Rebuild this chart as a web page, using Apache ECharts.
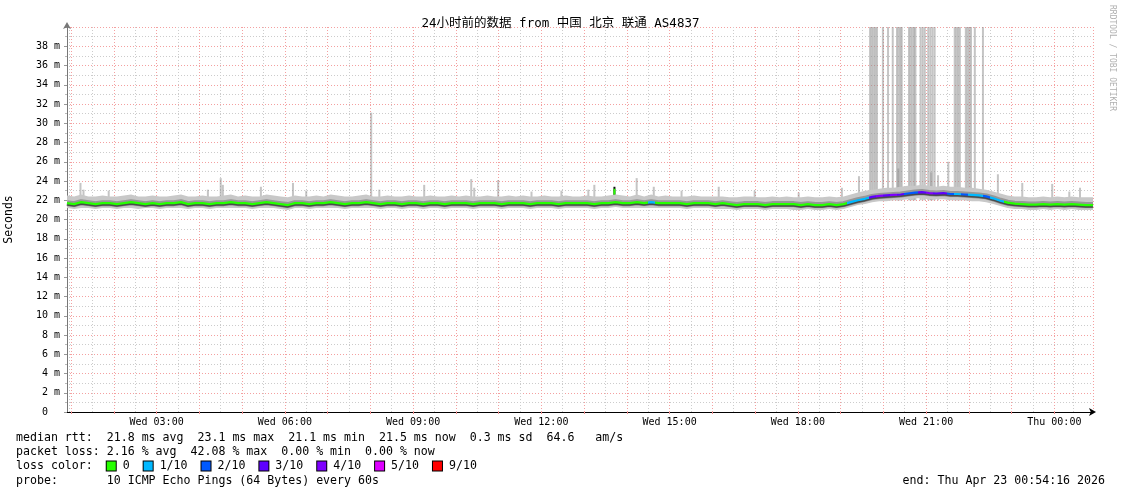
<!DOCTYPE html>
<html>
<head>
<meta charset="utf-8">
<script src="https://cdn.jsdelivr.net/npm/echarts@6/dist/echarts.min.js"></script>
<style>
html,body{margin:0;padding:0;background:#fff;}
#chart{width:1121px;height:494px;}
</style>
</head>
<body>
<div id="chart"></div>
<script>
// ---- data (10-minute samples starting Wed Apr 22 2026 00:54:16) ----
const titleText = '24小时前的数据 from 中国 北京 联通 AS4837';
const startTime = [2026, 3, 22, 0, 54, 16];
const endTime = [2026, 3, 23, 0, 54, 16];
const sampleMinutes = 10;

const medianRtt = [
  21.7,21.6,21.8,21.7,21.6,21.7,21.7,21.6,21.7,21.8,21.7,21.6,
  21.7,21.6,21.7,21.7,21.8,21.6,21.7,21.7,21.6,21.7,21.7,21.8,
  21.7,21.7,21.6,21.7,21.8,21.7,21.6,21.5,21.7,21.7,21.6,21.7,
  21.7,21.8,21.7,21.6,21.7,21.7,21.8,21.7,21.6,21.7,21.7,21.6,
  21.7,21.7,21.6,21.7,21.7,21.6,21.7,21.7,21.7,21.6,21.7,21.7,
  21.7,21.6,21.7,21.7,21.7,21.6,21.7,21.7,21.7,21.6,21.7,21.7,
  21.7,21.7,21.6,21.7,21.7,21.8,21.7,21.7,21.8,21.7,21.8,21.7,
  21.7,21.7,21.7,21.6,21.7,21.7,21.7,21.6,21.7,21.6,21.5,21.6,
  21.6,21.6,21.5,21.6,21.6,21.6,21.6,21.5,21.6,21.5,21.5,21.6,
  21.5,21.6,21.8,22.0,22.15,22.35,22.45,22.5,22.55,22.6,22.7,22.8,
  22.85,22.75,22.7,22.75,22.65,22.65,22.6,22.55,22.5,22.4,22.2,21.95,
  21.75,21.65,21.6,21.55,21.55,21.6,21.55,21.6,21.55,21.6,21.55,21.5,21.5
];
// a short median excursion (hours since Wed 00:00, peak in ms)
const medianSpikeHours = [13.71];
const medianSpikeTops = [23.4];
const lossCount = [
  0,0,0,0,0,0,0,0,0,0,0,0,
  0,0,0,0,0,0,0,0,0,0,0,0,
  0,0,0,0,0,0,0,0,0,0,0,0,
  0,0,0,0,0,0,0,0,0,0,0,0,
  0,0,0,0,0,0,0,0,0,0,0,0,
  0,0,0,0,0,0,0,0,0,0,0,0,
  0,0,0,0,0,0,0,0,0,0,1,0,
  0,0,0,0,0,0,0,0,0,0,0,0,
  0,0,0,0,0,0,0,0,0,0,0,0,
  0,0,1,1,1,3,4,3,4,3,2,2,
  3,4,3,3,2,1,2,1,1,2,1,1,
  0,0,0,0,0,0,0,0,0,0,0,0,0
];
const smokeLow = [
  21.2,21.1,21.2,21.2,21.1,21.2,21.2,21.1,21.2,21.2,21.1,21.2,
  21.2,21.1,21.2,21.2,21.2,21.1,21.2,21.2,21.1,21.2,21.2,21.2,
  21.2,21.2,21.1,21.2,21.2,21.2,21.1,21.0,21.2,21.2,21.1,21.2,
  21.2,21.2,21.2,21.1,21.2,21.2,21.2,21.2,21.1,21.2,21.2,21.1,
  21.2,21.2,21.1,21.2,21.2,21.1,21.2,21.2,21.2,21.1,21.2,21.2,
  21.2,21.1,21.2,21.2,21.2,21.1,21.2,21.2,21.2,21.1,21.2,21.2,
  21.2,21.2,21.1,21.2,21.2,21.3,21.2,21.2,21.2,21.2,21.2,21.2,
  21.2,21.2,21.2,21.1,21.2,21.2,21.2,21.1,21.1,21.1,21.0,21.1,
  21.1,21.1,21.0,21.1,21.1,21.1,21.0,21.0,21.1,21.0,21.0,21.1,
  21.0,21.1,21.3,21.5,21.6,21.8,21.9,21.9,22.0,22.0,22.1,22.2,
  22.2,22.1,22.1,22.1,22.0,22.0,22.0,21.9,21.9,21.8,21.6,21.4,
  21.2,21.1,21.1,21.0,21.0,21.1,21.0,21.1,21.0,21.1,21.0,21.0,21.0
];
const smokeHigh = [
  22.5,22.4,22.6,22.4,22.4,22.5,22.4,22.4,22.5,22.6,22.4,22.4,
  22.5,22.4,22.4,22.5,22.6,22.4,22.4,22.5,22.4,22.4,22.5,22.6,
  22.4,22.5,22.4,22.4,22.6,22.5,22.4,22.3,22.5,22.4,22.4,22.5,
  22.4,22.6,22.5,22.4,22.4,22.5,22.6,22.4,22.4,22.5,22.4,22.4,
  22.5,22.4,22.4,22.5,22.4,22.4,22.5,22.4,22.5,22.4,22.4,22.5,
  22.4,22.4,22.5,22.4,22.5,22.4,22.4,22.5,22.4,22.4,22.5,22.4,
  22.4,22.5,22.4,22.4,22.5,22.6,22.5,22.4,22.6,22.4,22.6,22.4,
  22.5,22.4,22.4,22.4,22.5,22.4,22.4,22.4,22.4,22.3,22.3,22.4,
  22.4,22.3,22.3,22.4,22.3,22.4,22.3,22.3,22.4,22.3,22.3,22.4,
  22.3,22.4,22.6,22.8,23.0,23.1,23.2,23.3,23.3,23.4,23.5,23.5,
  23.6,23.5,23.4,23.5,23.4,23.4,23.3,23.3,23.2,23.1,22.9,22.7,
  22.5,22.4,22.4,22.3,22.3,22.4,22.3,22.4,22.3,22.4,22.3,22.3,22.3
];
// occasional high pings (hours since Wed 00:00, top value in ms)
const spikeHours = [
  1.22,1.29,1.88,4.20,4.50,4.55,5.44,6.19,6.50,8.02,8.21,9.26,10.36,10.43,10.99,
  11.77,12.47,13.10,13.24,14.23,14.63,15.28,16.15,16.99,18.02,19.03,19.43,
  19.69,19.73,19.77,19.81,19.85,19.99,20.11,20.22,20.32,20.36,20.40,20.43,
  20.60,20.64,20.68,20.72,20.75,20.87,20.92,20.97,21.05,21.10,21.15,21.20,
  21.67,21.71,21.75,21.79,21.93,21.97,22.01,22.05,22.14,22.33,
  20.35,21.12,21.52,21.28,22.68,23.25,23.95,24.35,24.60
];
const spikeTops = [
  23.8,23.1,23.0,23.1,24.3,23.6,23.4,23.8,23.0,31.1,23.1,23.6,24.2,23.3,24.1,
  22.9,23.0,23.1,23.6,24.3,23.4,23.0,23.4,23.0,22.8,23.3,24.5,
  40,40,40,40,40,40,40,40,40,40,40,40,
  40,40,40,40,40,40,40,40,40,40,40,40,
  40,40,40,40,40,40,40,40,40,40,
  25.3,24.9,26.0,24.6,24.7,23.8,23.7,22.9,23.3
];
const yTicks = [0,2,4,6,8,10,12,14,16,18,20,22,24,26,28,30,32,34,36,38];
const lossLabels = ['0','1/10','2/10','3/10','4/10','5/10','9/10'];
const lossLevels = [0,1,2,3,4,5,9];
const lossColors = ['#26ff00','#00b8ff','#0059ff','#5e00ff','#7e00ff','#dd00ff','#ff0000'];
const statLines = [
  'median rtt:  21.8 ms avg  23.1 ms max  21.1 ms min  21.5 ms now  0.3 ms sd  64.6   am/s',
  'packet loss: 2.16 % avg  42.08 % max  0.00 % min  0.00 % now',
  'probe:       10 ICMP Echo Pings (64 Bytes) every 60s'
];
const endText = 'end: Thu Apr 23 00:54:16 2026';
const watermark = 'RRDTOOL / TOBI OETIKER';

// ---- build ----
const t0 = new Date(...startTime).getTime();
const t1 = new Date(...endTime).getTime();
const dayBase = new Date(startTime[0], startTime[1], startTime[2], 0, 0, 0).getTime();
const times = medianRtt.map((_, i) => t0 + i * sampleMinutes * 60000);
const HOUR = 3600000;
const mono = "'DejaVu Sans Mono', monospace";
const titleFont = "'DejaVu Sans Mono', 'Noto Sans CJK SC', monospace";

function colorForLoss(n) {
  let c = lossColors[0];
  for (let k = 0; k < lossLevels.length; k++) if (n >= lossLevels[k]) c = lossColors[k];
  return c;
}
const pieces = [];
times.forEach((t, i) => {
  const c = colorForLoss(lossCount[i]);
  const lo = i === 0 ? t0 - HOUR : t - 5 * 60000;
  const hi = i === times.length - 1 ? t1 + HOUR : t + 5 * 60000;
  const last = pieces[pieces.length - 1];
  if (last && last.color === c) last.lt = hi; else pieces.push({gte: lo, lt: hi, color: c});
});

const days = ['Sun','Mon','Tue','Wed','Thu','Fri','Sat'];
const pad = n => (n < 10 ? '0' : '') + n;

const richLoss = {};
let lossStr = 'loss color:  ';
lossLabels.forEach((lab, k) => {
  richLoss['c' + k] = {width: 9, height: 9, backgroundColor: lossColors[k], borderColor: '#000', borderWidth: 1};
  lossStr += '{c' + k + '| }' + ' ' + lab + (k < lossLabels.length - 1 ? '  ' : '');
});

const chart = echarts.init(document.getElementById('chart'), null, {renderer: 'canvas'});
const option = {
  animation: false,
  backgroundColor: '#fff',
  title: {
    text: titleText, left: 'center', top: 12,
    textStyle: {fontFamily: titleFont, fontSize: 12.5, fontWeight: 'normal', color: '#000'}
  },
  grid: {left: 67, right: 28, top: 27, bottom: 82, containLabel: false, outerBoundsMode: 'none'},
  xAxis: {
    type: 'time', min: t0, max: t1,
    minInterval: HOUR, maxInterval: HOUR, splitNumber: 24,
    axisLine: {show: true, lineStyle: {color: '#000', width: 1}, symbol: ['none', 'arrow'], symbolSize: [6, 7], symbolOffset: [0, 3]},
    axisTick: {show: true, length: 2, lineStyle: {color: '#f09090'}},
    minorTick: {show: false, splitNumber: 2},
    splitLine: {show: true, lineStyle: {color: '#f4a0a0', type: [1, 2], width: 1}},
    minorSplitLine: {show: true, lineStyle: {color: '#cccccc', type: [1, 2], width: 1}},
    axisLabel: {
      show: true, interval: 0, hideOverlap: false, showMinLabel: false, showMaxLabel: false,
      fontFamily: mono, fontSize: 10, color: '#000', margin: 5,
      formatter: function (v) {
        const d = new Date(v);
        if (d.getMinutes() !== 0 || d.getHours() % 3 !== 0) return '';
        return days[d.getDay()] + ' ' + pad(d.getHours()) + ':00';
      }
    }
  },
  yAxis: {
    type: 'value', min: 0, max: 40, interval: 2,
    name: 'Seconds', nameLocation: 'middle', nameGap: 52, nameRotate: 90,
    nameTextStyle: {fontFamily: mono, fontSize: 11.5, color: '#000'},
    axisLine: {show: true, lineStyle: {color: '#777', width: 1}, symbol: ['none', 'arrow'], symbolSize: [6, 7], symbolOffset: [0, 5]},
    axisTick: {show: true, length: 3, lineStyle: {color: '#999'}},
    minorTick: {show: true, splitNumber: 2, length: 2, lineStyle: {color: '#bbb'}},
    splitLine: {show: true, lineStyle: {color: '#f4a0a0', type: [1, 2], width: 1}},
    minorSplitLine: {show: true, lineStyle: {color: '#cccccc', type: [1, 2], width: 1}},
    axisLabel: {
      fontFamily: mono, fontSize: 10, color: '#000', margin: 7,
      formatter: function (v) {
        if (yTicks.indexOf(v) < 0) return '';
        return v === 0 ? '0  ' : v + ' m';
      }
    }
  },
  visualMap: {
    show: false, type: 'piecewise', seriesIndex: 4, dimension: 0, pieces: pieces
  },
  series: [
    {
      type: 'line', stack: 'smoke', symbol: 'none', silent: true,
      data: times.map((t, i) => [t, smokeLow[i]]),
      lineStyle: {opacity: 0}, areaStyle: {opacity: 0}
    },
    {
      type: 'line', stack: 'smoke', symbol: 'none', silent: true,
      data: times.map((t, i) => [t, +(smokeHigh[i] - smokeLow[i]).toFixed(2)]),
      lineStyle: {opacity: 0}, areaStyle: {color: '#c8c8c8', opacity: 1}
    },
    {
      type: 'custom', silent: true, clip: true,
      data: spikeHours.map((h, i) => [dayBase + h * HOUR, spikeTops[i]]),
      renderItem: function (params, api) {
        const top = api.coord([api.value(0), api.value(1)]);
        const base = api.coord([api.value(0), 22.0]);
        return {
          type: 'rect',
          shape: {x: top[0] - 1, y: top[1], width: 2, height: base[1] - top[1]},
          style: {fill: 'rgba(140,140,140,0.5)'}
        };
      }
    },
    {
      type: 'line', symbol: 'none', silent: true,
      data: times.map((t, i) => [t, medianRtt[i]]),
      lineStyle: {color: 'rgba(90,90,90,0.45)', width: 6}
    },
    {
      type: 'line', symbol: 'none', silent: true,
      data: times.map((t, i) => [t, medianRtt[i]]),
      lineStyle: {width: 2.2, shadowColor: 'rgba(0,0,0,0.55)', shadowBlur: 1, shadowOffsetY: 1.5}
    },
    {
      type: 'custom', silent: true, clip: true,
      data: medianSpikeHours.map((h, i) => [dayBase + h * HOUR, medianSpikeTops[i]]),
      renderItem: function (params, api) {
        const top = api.coord([api.value(0), api.value(1)]);
        const base = api.coord([api.value(0), 21.7]);
        return {
          type: 'group',
          children: [
            {type: 'rect', shape: {x: top[0] - 1, y: top[1], width: 2, height: base[1] - top[1]}, style: {fill: '#111'}},
            {type: 'rect', shape: {x: top[0] - 1, y: top[1] + 2, width: 2, height: 6}, style: {fill: lossColors[0]}}
          ]
        };
      }
    }
  ],
  graphic: [
    {type: 'text', left: 16, top: 432, style: {text: statLines[0], font: '11.6px ' + mono, fill: '#000'}},
    {type: 'text', left: 16, top: 446, style: {text: statLines[1], font: '11.6px ' + mono, fill: '#000'}},
    {type: 'text', left: 16, top: 460, style: {text: lossStr, font: '11.6px ' + mono, fill: '#000', rich: richLoss}},
    {type: 'text', left: 16, top: 475, style: {text: statLines[2], font: '11.6px ' + mono, fill: '#000'}},
    {type: 'text', right: 16, top: 475, style: {text: endText, font: '11.6px ' + mono, fill: '#000'}},
    {type: 'text', x: 1116, y: 5, rotation: -Math.PI / 2, style: {text: watermark, font: '8px ' + mono, fill: '#b0b0b0'}}
  ]
};
chart.setOption(option);
</script>
</body>
</html>
